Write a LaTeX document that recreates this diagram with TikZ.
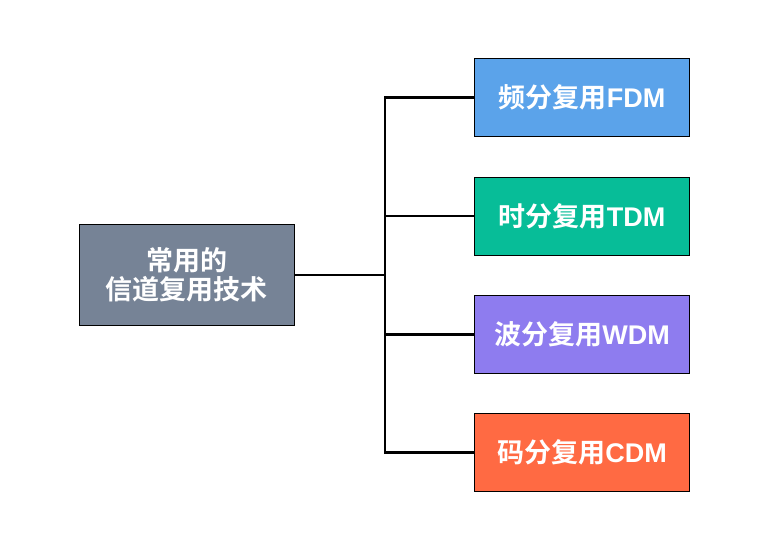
\documentclass[tikz,border=0pt]{standalone}
\usepackage{fontspec}
\setmainfont{Liberation Sans}
\newfontfamily\cjk{Noto Sans CJK SC}[BoldFont={Noto Sans CJK SC Bold}]
\definecolor{cgray}{HTML}{768396}
\definecolor{cblue}{HTML}{5BA3EA}
\definecolor{cteal}{HTML}{07BD98}
\definecolor{cpurple}{HTML}{8E7CEF}
\definecolor{corange}{HTML}{FF6A43}
\tikzset{
  box/.style={draw=black, line width=1pt, minimum width=215pt, minimum height=78pt, inner sep=0pt,
    text=white, font=\fontsize{27}{29}\selectfont\bfseries, align=center},
  link/.style={draw=black, line width=2.6pt},
}
\begin{document}
\begin{tikzpicture}[x=1pt,y=1pt]
\useasboundingbox (0,0) rectangle (770,-538);
\node[box, fill=cgray, minimum height=101pt] (root) at (186.5,-275) {{\cjk 常用的}\\{\cjk 信道复用技术}};
\node[box, fill=cblue] (a) at (582,-97.5) {{\cjk 频分复用}FDM};
\node[box, fill=cteal] (b) at (582,-216) {{\cjk 时分复用}TDM};
\node[box, fill=cpurple] (c) at (582,-334.5) {{\cjk 波分复用}WDM};
\node[box, fill=corange] (d) at (582,-452.5) {{\cjk 码分复用}CDM};
\coordinate (j) at (385,-275);
\draw[link] (root.east) -- (j);
\draw[link] (a.west) -| (j) |- (d.west);
\draw[link] (b.west) -- (b.west -| j);
\draw[link] (c.west) -- (c.west -| j);
\end{tikzpicture}
\end{document}
